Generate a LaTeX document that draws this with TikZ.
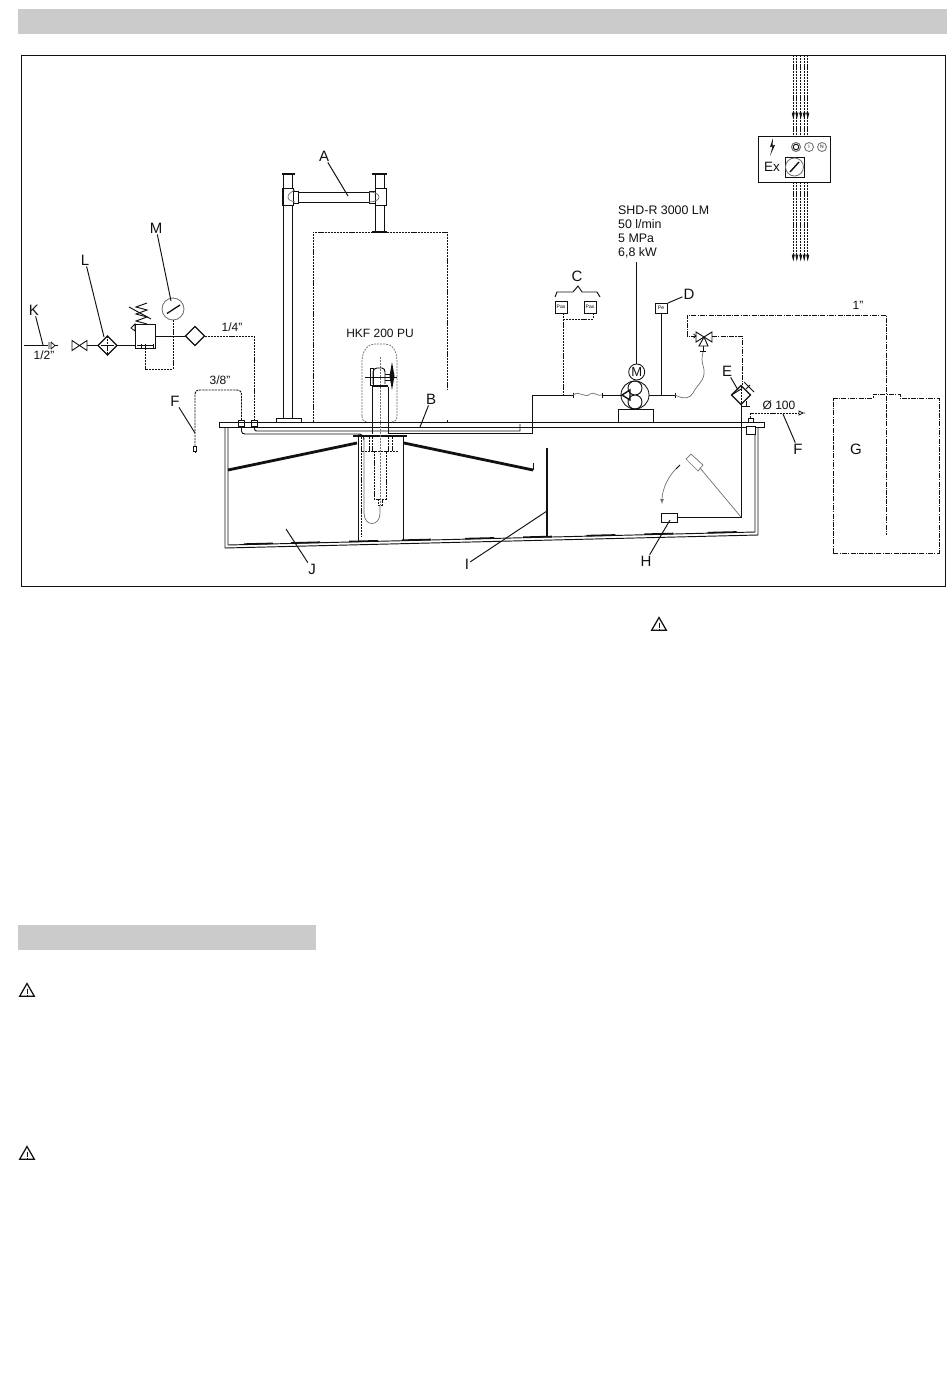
\documentclass[tikz,border=0pt]{standalone}
\usepackage{fontspec}
\setmainfont{Liberation Sans}
\usetikzlibrary{shapes.geometric,calc}
\definecolor{ink}{HTML}{111111}
\definecolor{bar}{HTML}{CBCBCB}
\definecolor{soft}{HTML}{707070}
\tikzset{
  ln/.style={draw=ink,line width=.95pt},
  frameline/.style={draw=ink,line width=.75pt},
  thin ln/.style={draw=ink,line width=.75pt},
  heavy/.style={draw=ink,line width=2.8pt},
  wire/.style={draw=ink,line width=.95pt,dash pattern=on 2.2pt off .9pt},
  wiredot/.style={draw=ink,line width=.95pt,dash pattern=on 5pt off 1.2pt on 1.2pt off 1.2pt},
  ghost/.style={draw=soft,line width=.7pt},
  ghostd/.style={draw=soft,line width=.7pt,dash pattern=on 2pt off 1pt},
  tag/.style={text=ink,font=\fontsize{15}{15}\selectfont,inner sep=1pt},
  note/.style={text=ink,font=\fontsize{12}{12}\selectfont,inner sep=0pt},
  spec/.style={text=ink,font=\fontsize{12.4}{12.4}\selectfont,inner sep=0pt,anchor=west},
  leader/.style={draw=ink,line width=.95pt},
  box/.style={draw=ink,line width=.85pt,rectangle,inner sep=0pt,outer sep=0pt,fill=white},
  filt/.style={draw=ink,line width=1.2pt,diamond,inner sep=0pt,outer sep=0pt,minimum width=19pt,minimum height=19pt,fill=white},
  disc/.style={draw=ink,line width=.85pt,circle,inner sep=0pt,outer sep=0pt},
  warn/.style={draw=ink,line width=1.25pt,regular polygon,regular polygon sides=3,inner sep=0pt,outer sep=0pt,minimum size=17pt},
}
\begin{document}
\begin{tikzpicture}[x=1pt,y=-1pt]
\useasboundingbox (0,0) rectangle (950,1379);
\fill[white] (0,0) rectangle (950,1379);
% header bars and frame
\fill[bar] (18,9) rectangle (947,34);
\fill[bar] (18,925) rectangle (316,950);
\draw[frameline] (21,55) rectangle (945,586);

% warning signs
\foreach \n/\x/\y in {wa/659/626,wb/27/992,wc/27/1155}{
  \node[warn] (\n) at (\x,\y) {};
  \draw[ink,line width=.8pt] (\x,\y-3.5) -- (\x,\y+1.5) (\x,\y+2.5) -- (\x,\y+3.8);
}

% -------- air supply ----------
\coordinate (kstart) at (24,345.5);
\coordinate (kend) at (48,345.5);
\draw[ln] (kstart) -- (kend);
\draw[thin ln] (49,342) -- (49,349) (51,342) -- (51,349) (51,342) -- (55,345.5) -- (51,349);
\draw[thin ln] (55,345.5) -- (58,345.5);
\coordinate (vl) at (72,340.5); \coordinate (vl2) at (72,350.5);
\coordinate (vr) at (87,340.5); \coordinate (vr2) at (87,350.5);
\draw[ln] (vl) -- (vr2) -- (vr) -- (vl2) -- cycle;
\node[filt] (filterL) at (107.5,345.5) {};
\draw[ln] (87,345.5) -- (filterL.west);
\draw[wire,line width=.6pt] (filterL.north) -- (filterL.south);
\draw[ln] ($(filterL.west)+(3,0)$) -- ($(filterL.east)+(-3,0)$);
\node[box,minimum width=20pt,minimum height=24pt] (reg) at (145,336) {};
\draw[ln] (filterL.east) -- (reg.west |- filterL.east);
\draw[thin ln] (137,345.5) -- (153,345.5) (141,343.5) -- (141,347.5) (145,343.5) -- (145,347.5) (153,343.5) -- (153,347.5);
% spring
\draw[ln] (147,324) -- (136,321) -- (147,317) -- (136,314) -- (147,310) -- (136,307) -- (147,303);
\draw[ln] (129,307) -- (151,319);
\draw[thin ln] (135,324) -- (131,328) -- (135,331) -- cycle;
% gauge
\node[disc,minimum size=22pt,draw=soft] (gauge) at (173,309) {};
\draw[ln,line width=1.3pt] (167,313.5) -- (180,305);
\node[filt] (filterB) at (195,336) {};
\draw[ln] (reg.east |- filterB.west) -- (filterB.west);
\draw[wire] (gauge.south) -- (173,369) -- (145,369) -- (reg.south);
% fittings on tank
\node[box,minimum width=6pt,minimum height=6pt] (sq1) at (241.5,423) {};
\node[box,minimum width=6pt,minimum height=6pt] (sq2) at (254.5,423) {};
\draw[wire] (filterB.east) -- (254.5,336) -- (sq2.north);
\draw[wire] (sq1.north) -- (241.5,395) .. controls (241.5,391.5) and (240,390) .. (236.5,390) -- (200,390) .. controls (196.5,390) and (195,391.5) .. (195,395) -- (195,446);
\draw[ln] (193.5,446) rectangle (196.5,451);
\draw[ln] (195,451) -- (195,453);

% -------- stand ----------
\draw[ln] (283,174) -- (283,418) (292,174) -- (292,188) (292,205) -- (292,418);
\draw[ln] (282,188) -- (282,205) -- (293,205) -- (293,188) -- cycle;
\draw[ink,line width=2pt] (282,174) -- (295,174) (372,174) -- (387,174);
\draw[ln] (293,191) rectangle (298,203);
\draw[ln] (298,192) rectangle (369,202);
\draw[ln] (369,191) rectangle (375,203);
\draw[ln] (375,188) rectangle (386,205);
\draw[ln] (375,174) -- (375,188) (384,174) -- (384,188) (375,205) -- (375,232) (384,205) -- (384,232);
\draw[ghost] (295,190) .. controls (291,192) and (288,194) .. (288,197) .. controls (288,200) and (291,201) .. (295,202);
\draw[ghost] (369,192) .. controls (375,192) and (379,194) .. (379,197) .. controls (379,200) and (375,202) .. (369,202);
\draw[ink,line width=2pt] (372,232) -- (387,232);
\draw[ln] (276,422) -- (276,418) -- (301,418) -- (301,422);
% working area
\draw[wire] (313,422) -- (313,232) -- (447,232) -- (447,390);
\draw[wire] (447,420) -- (447,422);

% -------- tank ----------
\draw[ln] (219,427) -- (219,422) -- (764,422) -- (764,427) -- (219,427);
\draw[ln] (225,427) -- (225,548) -- (758,535) -- (758,427);
\draw[ln] (228,427) -- (228,545) -- (755,532) -- (755,427);
\foreach \a in {.03,.12,.23,.33,.45,.56,.68,.79,.91}{
  \draw[ink,line width=1.6pt] ($(228,545)!\a!(755,532)+(0,-.5)$) -- ($(228,545)!\a+.055!(755,532)+(0,-.5)$);
}
% pipes under flange
\draw[ln] (sq2.south) -- (254.5,429) .. controls (254.5,430.5) and (255.5,431) .. (257,431) -- (520,431) -- (520,424);
\draw[ln] (sq1.south) -- (241.5,431) .. controls (241.5,433) and (243,434) .. (245,434) -- (358,434) .. controls (362,434) and (364,436) .. (364,440);
\draw[ln] (388,433) -- (532,433) -- (532,395);
% separator column
\draw[ln] (358,437) -- (358,541) (403,437) -- (403,541);
\draw[ink,line width=2.2pt] (353,436) -- (407,436);
\draw[heavy] (228,470) -- (357,443);
\draw[heavy] (404,443) -- (533,470);
\draw[ln] (533,463) -- (533,470);
\draw[ink,line width=2.1pt] (547,448) -- (547,537);
\draw[wire] (361,437) -- (361,537);
\draw[wire] (369,437) -- (369,451) (372,437) -- (372,451) (388,437) -- (388,451) (392,437) -- (392,451);
\draw[wire] (362,451) -- (399,451);
\draw[wire] (374,451) -- (374,499) -- (386,499) -- (386,451);
\draw[wire] (378,499) -- (378,505) -- (382,505) -- (382,499);
\draw[ghost] (364,440) -- (364,513) .. controls (364,527) and (380,527) .. (380,513) -- (380,505);
\draw[ghostd] (380,357) -- (380,505);
% HKF motor
\draw[ghostd] (362,416) -- (362,362) .. controls (362,350) and (368,344) .. (375,344) -- (385,344) .. controls (392,344) and (397,350) .. (397,362) -- (397,416) .. controls (397,420) and (395,422) .. (392,422);
\draw[ghostd] (362,416) .. controls (362,420) and (364,422) .. (367,422);
\draw[ln] (372,387) -- (372,434) (388,387) -- (388,434);
\draw[ink,line width=2.6pt] (372,386) -- (388,386);
\draw[ln] (370,368) rectangle (373,385);
\draw[ln] (373,384) -- (373,372) .. controls (373,369.5) and (375,368) .. (377,368) -- (382,368) .. controls (384,368) and (385,370) .. (385,372) -- (385,384);
\draw[ln] (385,374) -- (392,374) (385,380) -- (392,380);
\draw[ln] (365,377) -- (397,377);
\fill[ink] (392,362) -- (394.5,376) -- (392,390) -- (389.5,376) -- cycle;

% -------- pump ----------
\node[disc,minimum size=28pt] (pump) at (635,395) {};
\draw[ln] (635,388) circle (7) (635,402) circle (7);
\node[disc,minimum size=16pt,font=\fontsize{13}{13}\selectfont,text=ink] (motor) at (636.7,372) {M};
\draw[ln] (618,422) -- (618,409) -- (653,409) -- (653,422);
\draw[ln,line width=1.4pt] (622,395) -- (630,390) -- (630,400) -- cycle;
\draw[ln] (532,395) -- (573,395);
\draw[ln] (573,392.5) -- (573,397.5) (602,392.5) -- (602,397.5);
\draw[ghost] (573,395) .. controls (580,390) and (585,399) .. (590,394) .. controls (594,391) and (598,397) .. (602,395);
\draw[ln] (602,395) -- (622,395);
% C
\node[box,minimum width=12pt,minimum height=12pt,font=\fontsize{5}{5}\selectfont] (pa) at (561,307) {Pax};
\node[box,minimum width=12pt,minimum height=12pt,font=\fontsize{5}{5}\selectfont] (pb) at (590,307) {Pax};
\draw[wire] (563,313) -- (563,395);
\draw[wire] (593,313) -- (593,319) -- (563,319);
\draw[ln] (555,297) -- (557,292) -- (573,292) -- (578,286) -- (582,292) -- (597,292) -- (600,297);
% D
\node[box,minimum width=12pt,minimum height=10pt,font=\fontsize{5}{5}\selectfont] (pd) at (661,308) {Pe};
\draw[ln] (pd.south) -- (661,395);
\draw[ln] (pump.east) -- (675,395);
\draw[ln] (675,392.5) -- (675,397.5);
\draw[ghost] (675,395) .. controls (685,400) and (690,398) .. (693,393) .. controls (697,385) and (703,382) .. (704,374) .. controls (705,366) and (700,364) .. (703,352);
% valve
\coordinate (vc) at (703,337);
\draw[ln] (696,332) -- (712,342) -- (712,332) -- (696,342) -- cycle;
\draw[ln] (704,337) -- (699,346) -- (708,346) -- cycle;
\draw[ln] (703,346) -- (703,351) (700,351) -- (706,351);
\draw[wiredot] (696,336) -- (687,336) -- (687,315) -- (886,315) -- (886,535);
\draw[ink,line width=.8pt] (693.5,334) -- (696,336) -- (693.5,338);
\draw[wiredot] (712,336) -- (742,336) -- (742,385);
% E
\node[filt] (filterE) at (741,395) {};
\draw[wire,line width=.6pt] (filterE.north) -- (filterE.south);
\draw[ln] ($(filterE.north)+(1,3)$) -- (filterE.west);
\draw[ln] (746,389) -- (750,385) (744,382) -- (754,392);
\draw[ln] (746,401) -- (746,406) (742,406) -- (750,406);
\draw[ln] (filterE.south) -- (741,517) -- (677,517);
\node[box,minimum width=16pt,minimum height=9pt] (floatH) at (669,517.5) {};
% ghost float
\draw[ghost] (741,517) -- (700,468);
\draw[ghost] (691,454) -- (703,465) -- (698,471) -- (686,459) -- cycle;
\draw[ghost,->,>=latex] (679,466) .. controls (668,475) and (662,490) .. (662,504);
\draw[ink,line width=1pt] (676,469) -- (680,465);
% flange-right fitting
\node[box,minimum width=9pt,minimum height=8pt] (fit) at (750.5,430) {};
\node[box,minimum width=5pt,minimum height=4pt] (fitt) at (750.5,420) {};
\draw[wire] (fitt.north) -- (750.5,413) -- (799,413);
\draw[thin ln] (799,411) -- (799,415) -- (803,413) -- cycle (803,413) -- (805,413);

% -------- G tank --------
\draw[wiredot] (833,553) -- (833,398) -- (873,398) -- (873,394) -- (900,394) -- (900,398) -- (939,398) -- (939,553) -- cycle;

% -------- electric box --------
\node[box,minimum width=72pt,minimum height=46pt] (ebox) at (794,159) {};
\foreach \x in {793.3,796.8,800.7,804.2,807.7}{
  \draw[wire] (\x,55) -- (\x,136);
  \draw[wire] (\x,182) -- (\x,256);
  \draw[ink,line width=.6pt,fill=ink] (\x-1.1,113) -- (\x,118) -- (\x+1.1,113) -- cycle;
  \draw[ink,line width=.6pt,fill=ink] (\x-1.1,255) -- (\x,260) -- (\x+1.1,255) -- cycle;
}
\fill[ink] (773,138) -- (770,147) -- (772.5,146.5) -- (770,156) -- (775,145) -- (772.5,145.5) -- cycle;
\node[disc,minimum size=9pt,line width=1pt,draw=soft] (c0) at (796,147) {};
\node[disc,minimum size=5.5pt,line width=.9pt] at (796,147) {};
\node[disc,minimum size=9pt,draw=soft,font=\fontsize{5}{5}\selectfont,text=ink] (c1) at (809,147) {I};
\node[disc,minimum size=9pt,draw=soft,font=\fontsize{5}{5}\selectfont,text=ink] (c2) at (822,147) {N};
\node[box,minimum width=19pt,minimum height=20pt] (dial) at (794.5,167) {};
\node[disc,minimum size=18pt,draw=soft] (dialc) at (794.5,167) {};
\draw[ink,line width=1.4pt] (790,172) -- (799,162);
\node[text=ink,font=\fontsize{13.5}{13.5}\selectfont,inner sep=0pt] (ex) at (772,167) {Ex};

% -------- notes --------
\node[note] (n12) at (44,355) {1/2"};
\node[note] (n14) at (232,327) {1/4"};
\node[note] (n38) at (220,380) {3/8"};
\node[note] (nhkf) at (380,333) {HKF 200 PU};
\node[note] (n100) at (779,405) {Ø 100};
\node[note] (n1) at (858,305) {1"};
\node[spec] (shd) at (618,210) {SHD-R 3000 LM};
\node[spec] (shd2) at (618,224) {50 l/min};
\node[spec] (shd3) at (618,238) {5 MPa};
\node[spec] (shd4) at (618,253) {6,8 kW};
\draw[ln] (636.7,262) -- (motor.north);

% -------- letters and leaders --------
\node[tag] (lA) at (324,156) {A};
\node[tag] (lB) at (431,399) {B};
\node[tag] (lC) at (577,276) {C};
\node[tag] (lD) at (689,294) {D};
\node[tag] (lE) at (727,371) {E};
\node[tag] (lF) at (175,401) {F};
\node[tag] (lF2) at (798,449) {F};
\node[tag] (lG) at (856,449) {G};
\node[tag] (lH) at (646,561) {H};
\node[tag] (lI) at (467,564) {I};
\node[tag] (lJ) at (312,569) {J};
\node[tag] (lK) at (34,310) {K};
\node[tag] (lL) at (85,260) {L};
\node[tag] (lM) at (156,228) {M};
\coordinate (tA) at (348,196);
\coordinate (tB) at (420,427);
\coordinate (tD) at (668,303);
\coordinate (tE) at (738,390);
\coordinate (tF) at (195,433);
\coordinate (tF2) at (783,414);
\coordinate (tH) at (670,520);
\coordinate (tI) at (547,511);
\coordinate (tJ) at (286,529);
\coordinate (tK) at (43,345);
\coordinate (tL) at (104,337);
\coordinate (tM) at (171,301);
\draw[leader] (lA) -- (tA);
\draw[leader] (lB) -- (tB);
\draw[leader] (lD) -- (tD);
\draw[leader] (lE) -- (tE);
\draw[leader] (lF) -- (tF);
\draw[leader] (lF2) -- (tF2);
\draw[leader] (lH) -- (tH);
\draw[leader] (lI) -- (tI);
\draw[leader] (lJ) -- (tJ);
\draw[leader] (lK) -- (tK);
\draw[leader] (lL) -- (tL);
\draw[leader] (lM) -- (tM);
\end{tikzpicture}
\end{document}
